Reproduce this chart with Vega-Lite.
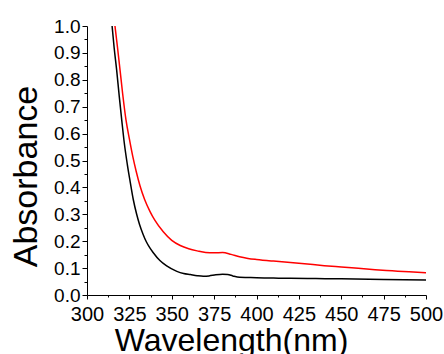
{
  "$schema": "https://vega.github.io/schema/vega-lite/v6.json",
  "width": 339,
  "height": 269,
  "autosize": {"type": "none"},
  "padding": {"left": 87, "top": 26, "right": 18, "bottom": 59},
  "background": "white",
  "config": {
    "view": {"stroke": null},
    "font": "Liberation Sans",
    "axis": {
      "grid": false,
      "domainColor": "#000000",
      "tickColor": "#000000",
      "labelColor": "#000000",
      "titleColor": "#000000",
      "labelFont": "Liberation Sans",
      "titleFont": "Liberation Sans",
      "titleFontWeight": "normal",
      "labelFontSize": 19,
      "domainWidth": 1,
      "tickWidth": 1,
      "labelOverlap": false,
      "labelFlush": false
    }
  },
  "data": {
    "values": [
      {"wl": 314.8, "a": 1.0, "s": "a"},
      {"wl": 316, "a": 0.92, "s": "a"},
      {"wl": 317.5, "a": 0.836, "s": "a"},
      {"wl": 319, "a": 0.74, "s": "a"},
      {"wl": 320.5, "a": 0.65, "s": "a"},
      {"wl": 322, "a": 0.565, "s": "a"},
      {"wl": 323.8, "a": 0.485, "s": "a"},
      {"wl": 325.5, "a": 0.42, "s": "a"},
      {"wl": 327.3, "a": 0.355, "s": "a"},
      {"wl": 329.3, "a": 0.3, "s": "a"},
      {"wl": 331, "a": 0.262, "s": "a"},
      {"wl": 333, "a": 0.227, "s": "a"},
      {"wl": 335, "a": 0.198, "s": "a"},
      {"wl": 337, "a": 0.176, "s": "a"},
      {"wl": 339, "a": 0.158, "s": "a"},
      {"wl": 343, "a": 0.128, "s": "a"},
      {"wl": 347, "a": 0.108, "s": "a"},
      {"wl": 353, "a": 0.088, "s": "a"},
      {"wl": 357, "a": 0.08, "s": "a"},
      {"wl": 361, "a": 0.076, "s": "a"},
      {"wl": 365, "a": 0.072, "s": "a"},
      {"wl": 368.6, "a": 0.07, "s": "a"},
      {"wl": 372, "a": 0.071, "s": "a"},
      {"wl": 376, "a": 0.075, "s": "a"},
      {"wl": 380, "a": 0.077, "s": "a"},
      {"wl": 383, "a": 0.076, "s": "a"},
      {"wl": 386, "a": 0.071, "s": "a"},
      {"wl": 390, "a": 0.066, "s": "a"},
      {"wl": 395, "a": 0.065, "s": "a"},
      {"wl": 400, "a": 0.064, "s": "a"},
      {"wl": 410, "a": 0.063, "s": "a"},
      {"wl": 420, "a": 0.062, "s": "a"},
      {"wl": 435, "a": 0.061, "s": "a"},
      {"wl": 450, "a": 0.06, "s": "a"},
      {"wl": 475, "a": 0.058, "s": "a"},
      {"wl": 500, "a": 0.056, "s": "a"},
      {"wl": 316.5, "a": 1.0, "s": "b"},
      {"wl": 318, "a": 0.92, "s": "b"},
      {"wl": 319.5, "a": 0.836, "s": "b"},
      {"wl": 321, "a": 0.75, "s": "b"},
      {"wl": 323, "a": 0.651, "s": "b"},
      {"wl": 325, "a": 0.58, "s": "b"},
      {"wl": 327, "a": 0.515, "s": "b"},
      {"wl": 329, "a": 0.46, "s": "b"},
      {"wl": 331.3, "a": 0.405, "s": "b"},
      {"wl": 334, "a": 0.355, "s": "b"},
      {"wl": 337.2, "a": 0.31, "s": "b"},
      {"wl": 340, "a": 0.278, "s": "b"},
      {"wl": 345, "a": 0.235, "s": "b"},
      {"wl": 350, "a": 0.203, "s": "b"},
      {"wl": 355, "a": 0.184, "s": "b"},
      {"wl": 360, "a": 0.172, "s": "b"},
      {"wl": 365, "a": 0.164, "s": "b"},
      {"wl": 370, "a": 0.158, "s": "b"},
      {"wl": 375, "a": 0.157, "s": "b"},
      {"wl": 380, "a": 0.158, "s": "b"},
      {"wl": 385, "a": 0.151, "s": "b"},
      {"wl": 390, "a": 0.142, "s": "b"},
      {"wl": 395, "a": 0.136, "s": "b"},
      {"wl": 400, "a": 0.132, "s": "b"},
      {"wl": 410, "a": 0.126, "s": "b"},
      {"wl": 420, "a": 0.121, "s": "b"},
      {"wl": 430, "a": 0.115, "s": "b"},
      {"wl": 440, "a": 0.109, "s": "b"},
      {"wl": 450, "a": 0.104, "s": "b"},
      {"wl": 460, "a": 0.099, "s": "b"},
      {"wl": 470, "a": 0.094, "s": "b"},
      {"wl": 480, "a": 0.09, "s": "b"},
      {"wl": 490, "a": 0.086, "s": "b"},
      {"wl": 500, "a": 0.083, "s": "b"}
    ]
  },
  "mark": {"type": "line", "strokeWidth": 1.5, "interpolate": "monotone", "clip": true},
  "encoding": {
    "x": {
      "field": "wl",
      "type": "quantitative",
      "scale": {"domain": [300, 500], "nice": false, "zero": false},
      "axis": {
        "title": "Wavelength(nm)",
        "values": [300, 312.5, 325, 337.5, 350, 362.5, 375, 387.5, 400, 412.5, 425, 437.5, 450, 462.5, 475, 487.5, 500],
        "labelExpr": "datum.value % 25 === 0 ? datum.label : ''",
        "tickSize": {"condition": {"test": "datum.value % 25 === 0", "value": 4}, "value": 2},
        "labelFontSize": 20,
        "labelBaseline": "alphabetic",
        "labelPadding": 21,
        "titleFontSize": 32,
        "titleX": 144,
        "titleY": 55,
        "titleAlign": "center",
        "titleBaseline": "alphabetic"
      }
    },
    "y": {
      "field": "a",
      "type": "quantitative",
      "scale": {"domain": [0, 1], "nice": false},
      "axis": {
        "title": "Absorbance",
        "values": [0, 0.05, 0.1, 0.15, 0.2, 0.25, 0.3, 0.35, 0.4, 0.45, 0.5, 0.55, 0.6, 0.65, 0.7, 0.75, 0.8, 0.85, 0.9, 0.95, 1.0],
        "format": ".1f",
        "labelExpr": "abs(datum.value * 10 - round(datum.value * 10)) < 0.001 ? datum.label : ''",
        "tickSize": {"condition": {"test": "abs(datum.value * 10 - round(datum.value * 10)) < 0.001", "value": 5}, "value": 3},
        "labelPadding": 2,
        "titleFontSize": 34,
        "titleAngle": -90,
        "titleX": -51,
        "titleY": 150,
        "titleAlign": "center",
        "titleBaseline": "alphabetic"
      }
    },
    "color": {
      "field": "s",
      "type": "nominal",
      "scale": {"domain": ["a", "b"], "range": ["#000000", "#ff0000"]},
      "legend": null
    }
  }
}
